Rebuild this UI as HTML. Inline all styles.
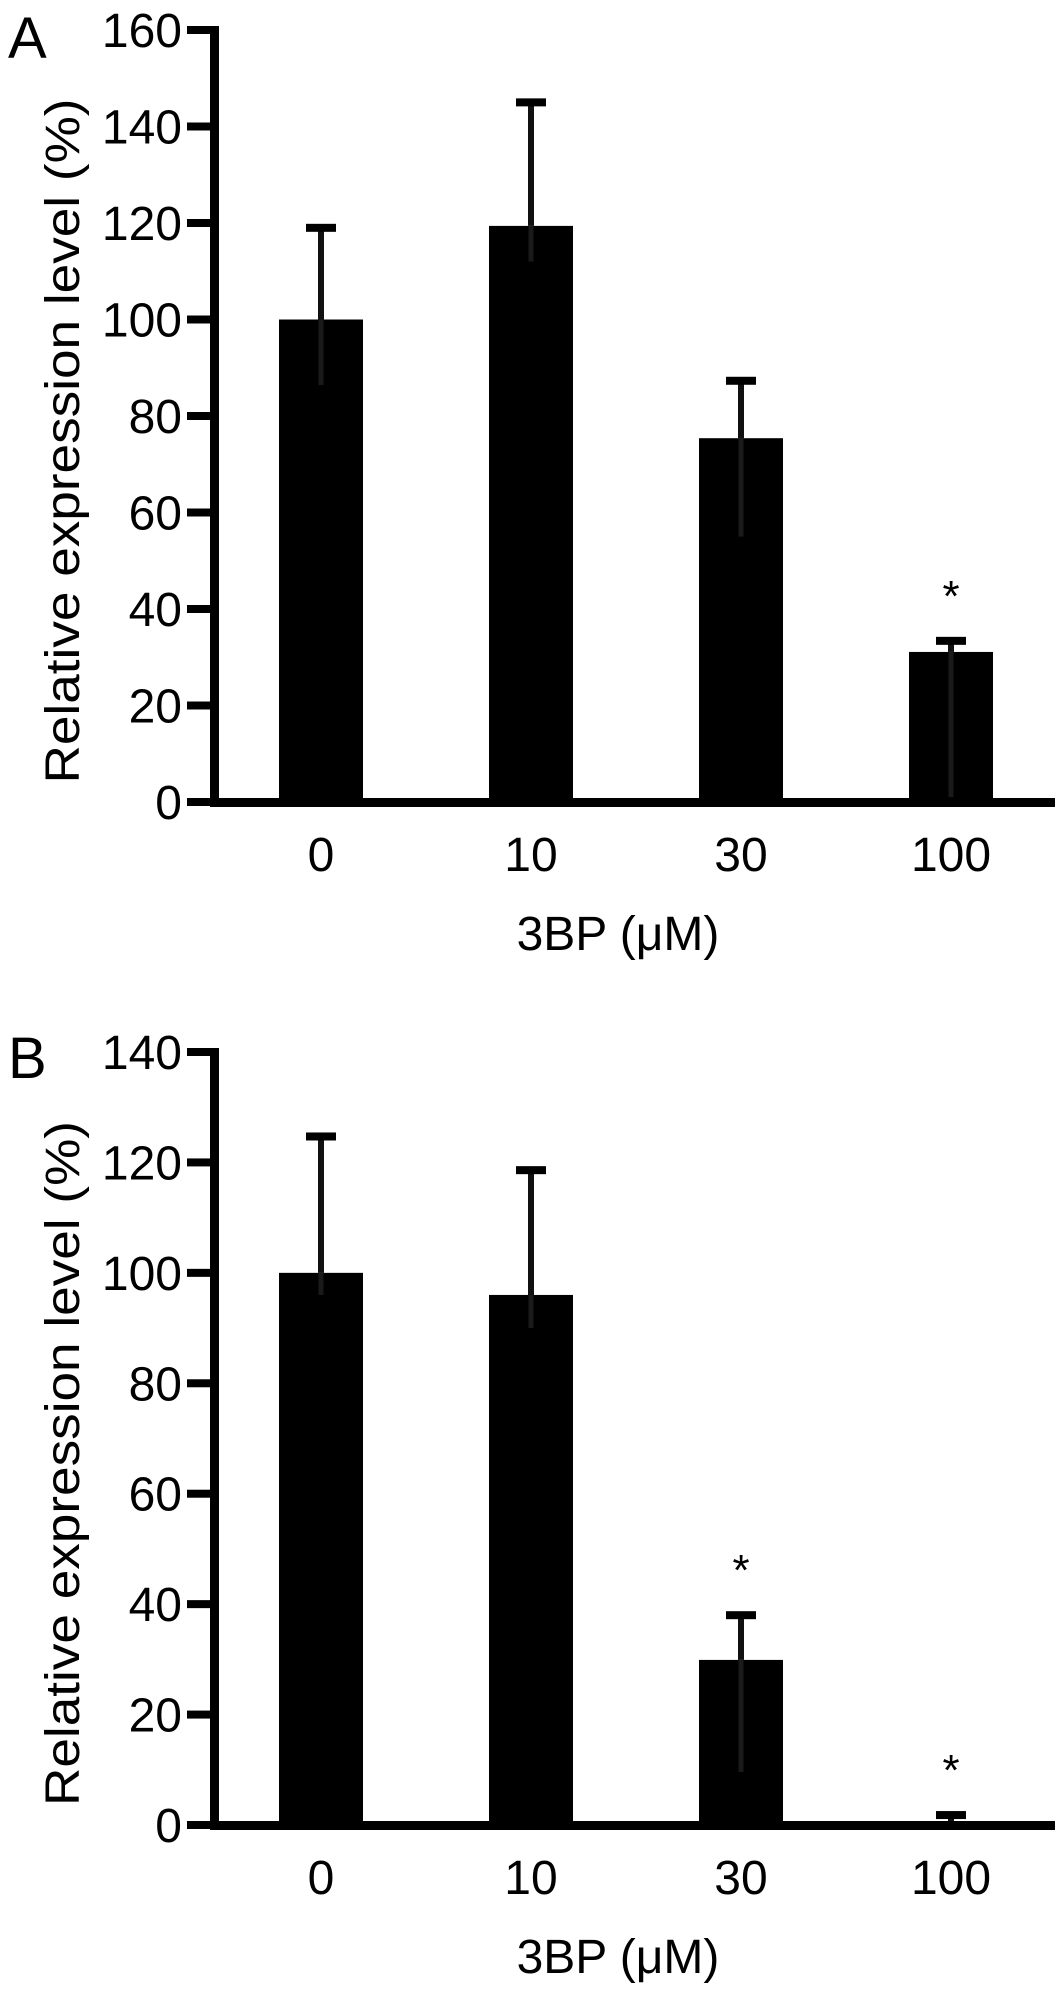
<!DOCTYPE html>
<html><head><meta charset="utf-8"><style>
html,body{margin:0;padding:0;background:#fff;}
svg{display:block;font-family:"Liberation Sans",Arial,sans-serif;}
</style></head><body>
<svg id="fig" width="1063" height="1994" viewBox="0 0 1063 1994" xmlns="http://www.w3.org/2000/svg"></svg>
<script>
const categories = ["0","10","30","100"];
const valuesA = [100, 119.4, 75.4, 31.1];
const errTopA = [119, 145, 87.3, 33.4];
const errLowA = [86.4, 112, 55, 1];
const sigA = [false, false, false, true];
const ticksA = [0,20,40,60,80,100,120,140,160];

const valuesB = [100, 96, 29.9, 0.5];
const errTopB = [124.7, 118.6, 38, 1.8];
const errLowB = [96, 90, 9.6, 0];
const sigB = [false, false, true, true];
const ticksB = [0,20,40,60,80,100,120,140];

const NS = "http://www.w3.org/2000/svg";
const svg = document.getElementById("fig");
function mk(tag, attrs, parent){
  const e = document.createElementNS(NS, tag);
  for (const k in attrs) e.setAttribute(k, attrs[k]);
  (parent||svg).appendChild(e);
  return e;
}

function panel(cfg){
  const g = mk("g", {});
  
  
  const axX = 215, xEnd = 1055, x0 = 321, step = 210, bw = 84;
  const y = v => cfg.y0 - (v - 0) * (cfg.y0 - cfg.yTop) / cfg.vmax;
  const xc = i => x0 + i * step;

  cfg.values.forEach((v, i) => {
    const r = mk("rect", {x: xc(i) - bw/2, y: y(v), width: bw, height: cfg.y0 - y(v), fill: "#000"}, g);
    
    
    const lo = mk("line", {x1: xc(i), x2: xc(i), y1: y(v), y2: y(cfg.errLow[i]), stroke: "#1a1a1a", "stroke-width": 5}, g);
    
    
    const up = mk("line", {x1: xc(i), x2: xc(i), y1: y(v), y2: y(cfg.errTop[i]), stroke: "#111", "stroke-width": 6}, g);
    
    
    const cap = mk("rect", {x: xc(i) - 15, y: y(cfg.errTop[i]) - 4, width: 30, height: 8, fill: "#000"}, g);
    
    
    if (cfg.sig[i]) {
      const s = mk("text", {x: xc(i), y: y(cfg.errTop[i]) - 30, "font-size": 44, "text-anchor": "middle"}, g);
      s.textContent = "*";
      
      
    }
    const t = mk("text", {x: xc(i), y: cfg.y0 + 69, "font-size": 48, "text-anchor": "middle"}, g);
    t.textContent = categories[i];
    
    
  });

  const ya = mk("rect", {x: axX - 5, y: y(cfg.vmax) - 4, width: 9, height: cfg.y0 - y(cfg.vmax) + 8, fill: "#000"}, g);
  
  
  const xa = mk("rect", {x: axX - 5, y: cfg.y0 - 4, width: xEnd - axX + 5, height: 9, fill: "#000"}, g);
  
  

  cfg.ticks.forEach(tv => {
    const tk = mk("rect", {x: 187, y: y(tv) - 4, width: 28, height: 8, fill: "#000"}, g);
    
    
    const tl = mk("text", {x: 182, y: y(tv) + 17, "font-size": 48, "text-anchor": "end"}, g);
    tl.textContent = tv;
    
    
  });

  const yt = mk("text", {x: 0, y: 0, "font-size": 48, "text-anchor": "middle", textLength: 685, lengthAdjust: "spacingAndGlyphs",
    transform: "translate(79," + ((cfg.y0 + y(cfg.vmax)) / 2 + 25) + ") rotate(-90)"}, g);
  yt.textContent = "Relative expression level (%)";
  
  

  const xt = mk("text", {x: 618, y: cfg.y0 + 148, "font-size": 48, "text-anchor": "middle"}, g);
  xt.textContent = "3BP (\u03bcM)";
  
  

  const pl = mk("text", {x: 8, y: cfg.labelY, "font-size": 58}, g);
  pl.textContent = cfg.label;
  
  
}

panel({name: "panel-a", label: "A", labelY: 58, y0: 802, yTop: 30, vmax: 160, values: valuesA, errTop: errTopA, errLow: errLowA, sig: sigA, ticks: ticksA});
panel({name: "panel-b", label: "B", labelY: 1078, y0: 1825, yTop: 1052, vmax: 140, values: valuesB, errTop: errTopB, errLow: errLowB, sig: sigB, ticks: ticksB});
</script>
</body></html>
